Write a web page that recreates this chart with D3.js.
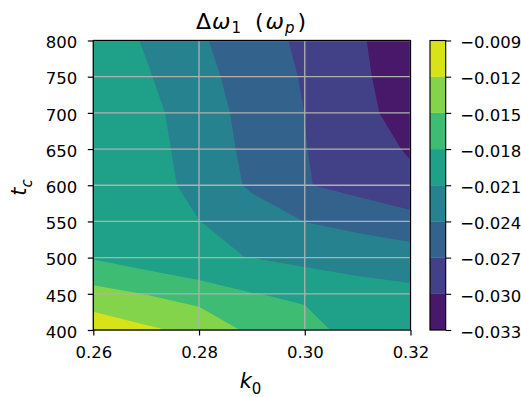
<!DOCTYPE html>
<html><head><meta charset="utf-8">
<script src="https://cdn.jsdelivr.net/npm/d3@7"></script>
<style>
body{margin:0;background:#fff}
text{font-family:"DejaVu Sans",sans-serif;fill:#000}
</style>
</head><body>
<svg id="chart" width="521" height="397"></svg>
<script>
// ---- data ----
const k0Values = [0.26, 0.27, 0.28, 0.29, 0.30, 0.31, 0.32];
const tcValues = [400, 450, 500, 550, 600, 650, 700, 750, 800];
// Δω1 per row of t_c (columns follow k0Values)
const dw_tc400 = [-0.00996, -0.0115, -0.01278, -0.01566, -0.01689, -0.0192, -0.0196];
const dw_tc450 = [-0.01399, -0.0151, -0.01625, -0.0179, -0.0185, -0.01994, -0.02034];
const dw_tc500 = [-0.01821, -0.01949, -0.02086, -0.02102, -0.02188, -0.0221, -0.02255];
const dw_tc550 = [-0.0183, -0.0195, -0.02095, -0.0225, -0.02403, -0.0249, -0.02592];
const dw_tc600 = [-0.0184, -0.01958, -0.02202, -0.02443, -0.02682, -0.02799, -0.0293];
const dw_tc650 = [-0.0185, -0.01982, -0.02234, -0.02473, -0.02691, -0.02862, -0.0303];
const dw_tc700 = [-0.0187, -0.02008, -0.02264, -0.02496, -0.02702, -0.02913, -0.03124];
const dw_tc750 = [-0.0188, -0.02071, -0.02313, -0.02526, -0.02726, -0.02942, -0.03158];
const dw_tc800 = [-0.0190, -0.0213, -0.02363, -0.02564, -0.02761, -0.02965, -0.03169];
const levels = [-0.033, -0.030, -0.027, -0.024, -0.021, -0.018, -0.015, -0.012, -0.009];
const xTicks = [0.26, 0.28, 0.30, 0.32];
const yTicks = [400, 450, 500, 550, 600, 650, 700, 750, 800];

// ---- layout ----
const svg = d3.select("#chart");
const L = 93.3, R = 410.5, T = 40.5, B = 330;
const x = d3.scaleLinear().domain([0.26, 0.32]).range([L, R]);
const y = d3.scaleLinear().domain([400, 800]).range([B, T]);
const nx = k0Values.length, ny = tcValues.length;
const rows = [dw_tc400, dw_tc450, dw_tc500, dw_tc550, dw_tc600, dw_tc650, dw_tc700, dw_tc750, dw_tc800];
const flat = [].concat(...rows);

const nb = levels.length - 1;
const color = i => d3.interpolateViridis((i + 0.5) / nb);

// grid coords -> data
const gk = d3.scaleLinear().domain([0.5, nx - 0.5]).range([k0Values[0], k0Values[nx - 1]]);
const gt = d3.scaleLinear().domain([0.5, ny - 0.5]).range([tcValues[0], tcValues[ny - 1]]);
const proj = d3.geoTransform({point(px, py){ this.stream.point(x(gk(px)), y(gt(py))); }});
const path = d3.geoPath(proj);

const contours = d3.contours().size([nx, ny]).thresholds(levels.slice(0, -1))(flat);

svg.append("clipPath").attr("id", "clip").append("rect")
  .attr("x", L).attr("y", T).attr("width", R - L).attr("height", B - T);

svg.append("g").attr("clip-path", "url(#clip)")
  .selectAll("path").data(contours).join("path")
  .attr("d", path)
  .attr("fill", (d, i) => color(i))
  .attr("stroke", "none");

// grid
const grid = svg.append("g").attr("stroke", "#b0b0b0").attr("stroke-width", 1.3);
grid.selectAll("line.gx").data(xTicks).join("line")
  .attr("x1", d => x(d)).attr("x2", d => x(d)).attr("y1", T).attr("y2", B);
grid.selectAll("line.gy").data(yTicks).join("line")
  .attr("y1", d => y(d)).attr("y2", d => y(d)).attr("x1", L).attr("x2", R);

// axes
const fs = "16.5px";
const ax = svg.append("g").attr("transform", `translate(0,${B})`)
  .call(d3.axisBottom(x).tickValues(xTicks).tickFormat(d3.format(".2f")).tickSize(5.5).tickPadding(10.5));
const ay = svg.append("g").attr("transform", `translate(${L},0)`)
  .call(d3.axisLeft(y).tickValues(yTicks).tickFormat(d3.format("d")).tickSize(5.5).tickPadding(10.5));
[ax, ay].forEach(a => {
  a.select(".domain").remove();
  a.selectAll("line").attr("stroke", "#000").attr("stroke-width", 1.2);
  a.selectAll("text").style("font-size", fs).style("font-family", "DejaVu Sans").attr("fill", "#111");
});
ay.selectAll("text").attr("dy", "0.44em");

svg.append("rect").attr("x", L).attr("y", T).attr("width", R - L).attr("height", B - T)
  .attr("fill", "none").attr("stroke", "#000").attr("stroke-width", 1.2);

// colorbar
const cL = 430, cW = 15.7;
const cy = d3.scaleLinear().domain([levels[0], levels[nb]]).range([B, T]);
const bands = d3.range(nb).map(i => [levels[i], levels[i + 1]]);
svg.append("g").selectAll("rect").data(bands).join("rect")
  .attr("x", cL).attr("width", cW)
  .attr("y", d => cy(d[1])).attr("height", d => cy(d[0]) - cy(d[1]))
  .attr("fill", (d, i) => color(i)).attr("stroke", (d, i) => color(i)).attr("stroke-width", 0.3);
svg.append("rect").attr("x", cL).attr("y", T).attr("width", cW).attr("height", B - T)
  .attr("fill", "none").attr("stroke", "#000").attr("stroke-width", 1.1);
const ac = svg.append("g").attr("transform", `translate(${cL + cW},0)`)
  .call(d3.axisRight(cy).tickValues(levels).tickFormat(d3.format(".3f")).tickSize(5.5).tickPadding(9));
ac.select(".domain").remove();
ac.selectAll("line").attr("stroke", "#000").attr("stroke-width", 1.1);
ac.selectAll("text").style("font-size", fs).style("font-family", "DejaVu Sans").attr("fill", "#111").attr("dy", "0.44em");

// title (flowing tspans, centred over the plot)
const title = svg.append("text").attr("x", 251).attr("y", 28.5)
  .attr("text-anchor", "middle").style("font-size", "22px");
title.append("tspan").text("Δ");
title.append("tspan").attr("dx", 1).style("font-style", "italic").text("ω");
title.append("tspan").attr("dx", 1).attr("dy", 4.8).style("font-size", "15px").text("1");
title.append("tspan").attr("dx", 14).attr("dy", -4.8).text("(");
title.append("tspan").attr("dx", 2).style("font-style", "italic").text("ω");
title.append("tspan").attr("dx", 1).attr("dy", 4.8).style("font-size", "15px").style("font-style", "italic").text("p");
title.append("tspan").attr("dx", 3).attr("dy", -4.8).text(")");

// x label
const xl = svg.append("text").attr("x", 250.5).attr("y", 388).attr("text-anchor", "middle").style("font-size", "21px");
xl.append("tspan").style("font-style", "italic").text("k");
xl.append("tspan").attr("dy", 5.5).style("font-size", "15px").text("0");

// y label
const yl = svg.append("text").attr("transform", "translate(26,187.5) rotate(-90)").attr("text-anchor", "middle").style("font-size", "21px");
yl.append("tspan").style("font-style", "italic").text("t");
yl.append("tspan").attr("dy", 5.5).style("font-size", "15px").style("font-style", "italic").text("c");
</script>
</body></html>
